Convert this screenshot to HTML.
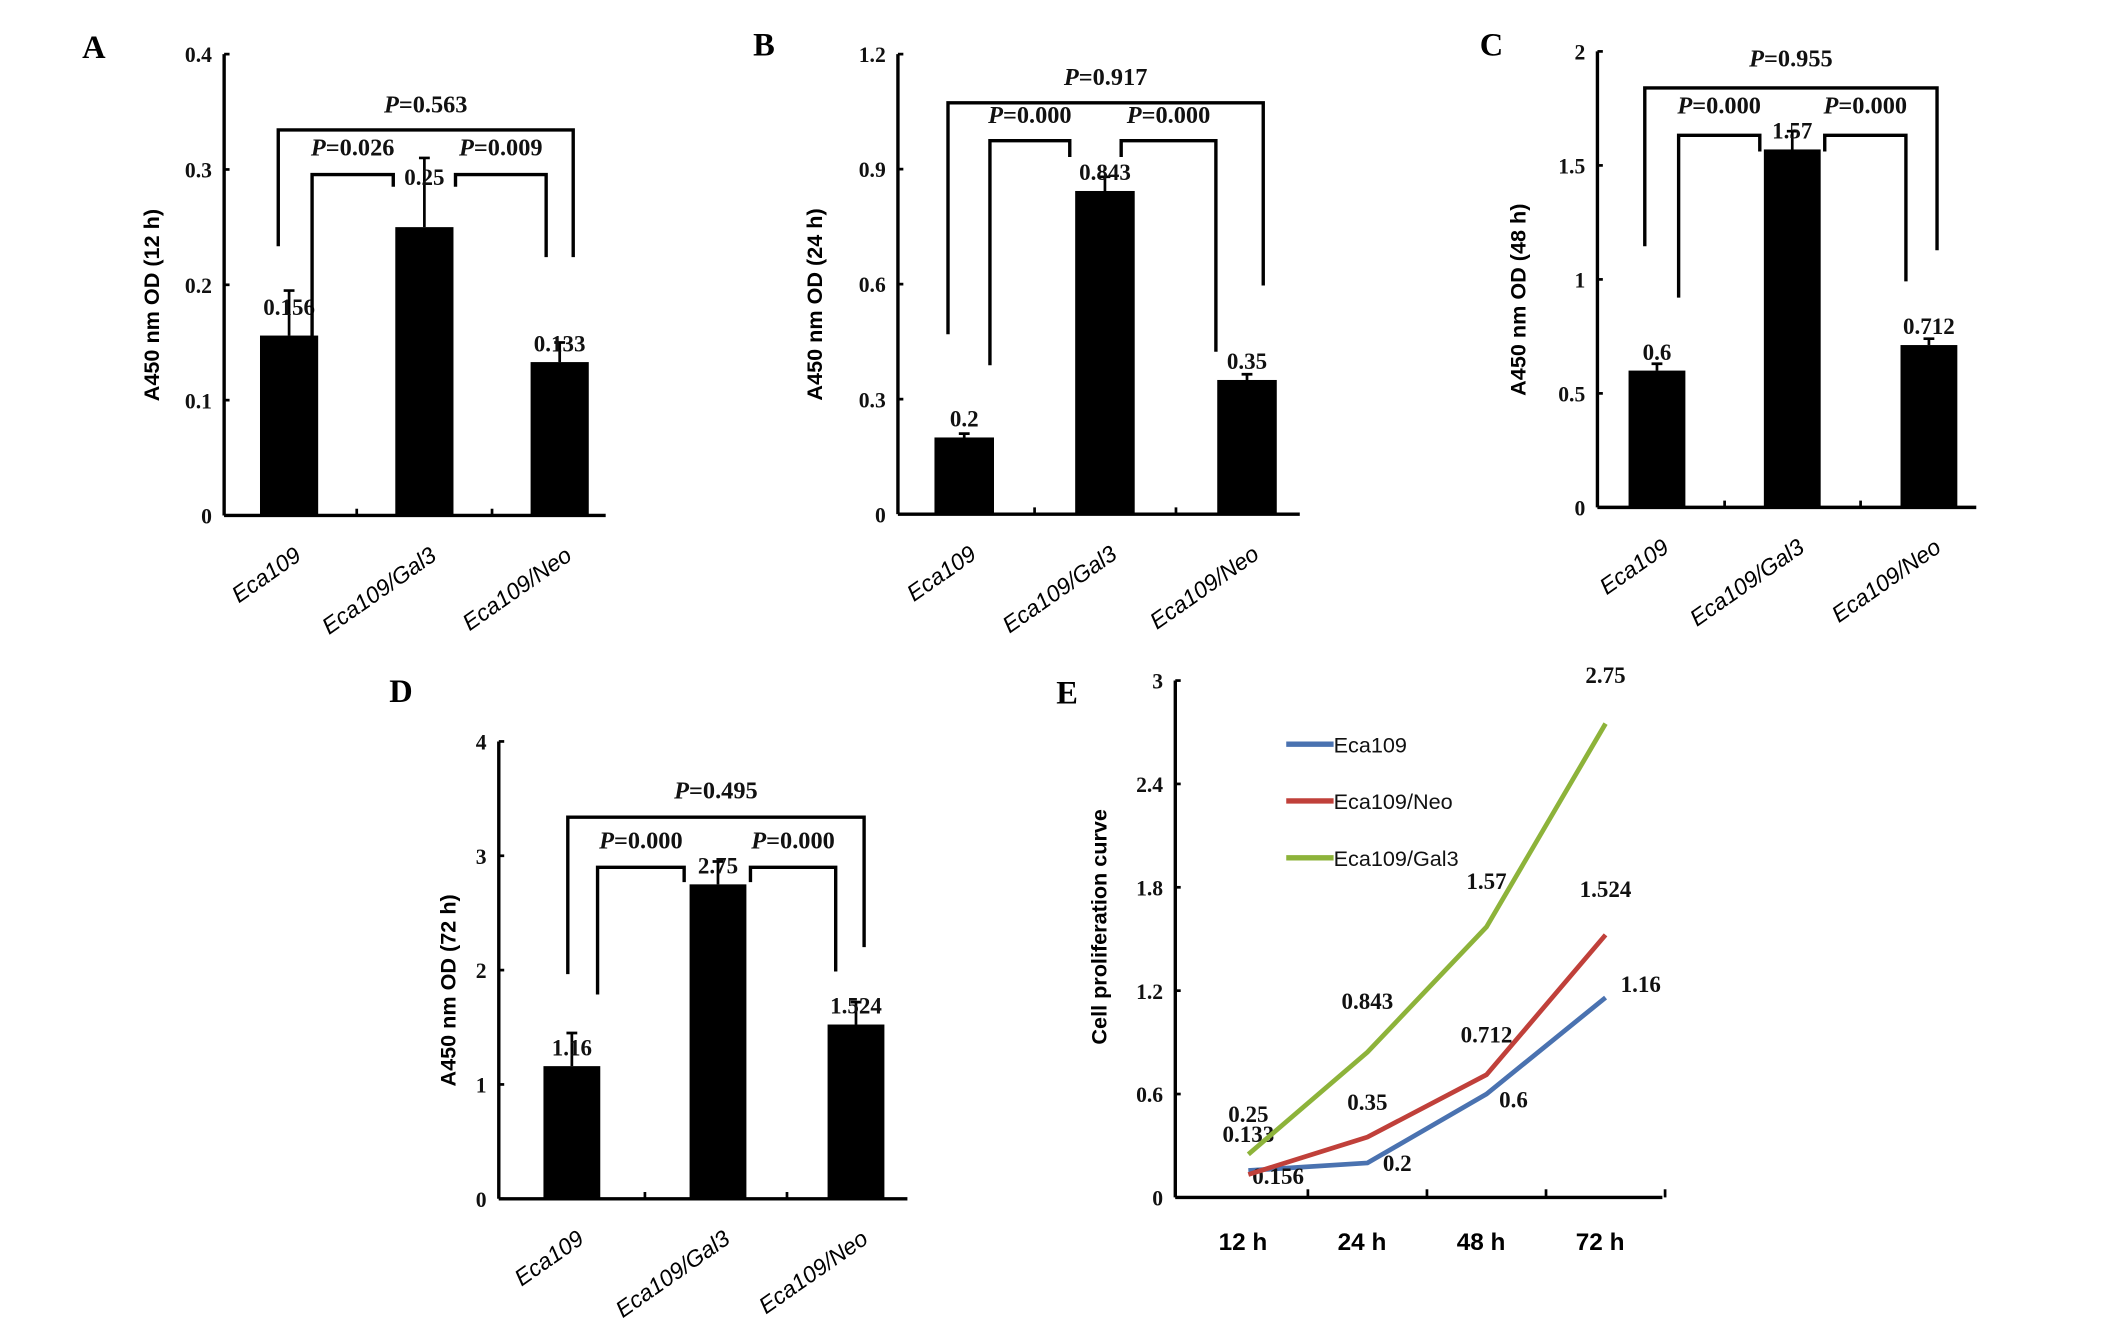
<!DOCTYPE html>
<html><head><meta charset="utf-8"><style>
html,body{margin:0;padding:0;background:#fff;}
svg{display:block;}
.tk{font-family:"Liberation Serif",serif;font-size:16px;font-weight:bold;fill:#111;}
.pv{font-family:"Liberation Serif",serif;font-size:18px;font-weight:bold;fill:#111;}
.vl{font-family:"Liberation Serif",serif;font-size:17px;font-weight:bold;fill:#111;}
.yl{font-family:"Liberation Sans",sans-serif;font-size:16px;font-weight:bold;fill:#000;}
.cat{font-family:"Liberation Sans",sans-serif;font-size:17px;font-style:italic;fill:#000;}
.pl{font-family:"Liberation Serif",serif;font-size:24px;font-weight:bold;fill:#000;}
.lg{font-family:"Liberation Sans",sans-serif;font-size:16px;fill:#111;}
.xl{font-family:"Liberation Sans",sans-serif;font-size:18px;font-weight:bold;fill:#000;}
</style></head><body>
<svg id="fig" width="2126" height="1330" viewBox="0 0 1570 983" xmlns="http://www.w3.org/2000/svg"></svg>
<script>
const categories = ["Eca109","Eca109/Gal3","Eca109/Neo"];
const valuesA = [0.156,0.25,0.133];  const errA = [0.195,0.31,0.15];  const ticksA = [0,0.1,0.2,0.3,0.4];
const valuesB = [0.2,0.843,0.35];    const errB = [0.21,0.88,0.365];  const ticksB = [0,0.3,0.6,0.9,1.2];
const valuesC = [0.6,1.57,0.712];    const errC = [0.63,1.65,0.74];   const ticksC = [0,0.5,1,1.5,2];
const valuesD = [1.16,2.75,1.524];   const errD = [1.45,2.95,1.72];   const ticksD = [0,1,2,3,4];
const pA = ["0.563","0.026","0.009"];
const pB = ["0.917","0.000","0.000"];
const pC = ["0.955","0.000","0.000"];
const pD = ["0.495","0.000","0.000"];
const timeLabels = ["12 h","24 h","48 h","72 h"];
const lineEca = [0.156,0.2,0.6,1.16];
const lineNeo = [0.133,0.35,0.712,1.524];
const lineGal = [0.25,0.843,1.57,2.75];
const ticksE = [0,0.6,1.2,1.8,2.4,3];

const NS="http://www.w3.org/2000/svg";
const svg=document.getElementById('fig');
function mk(tag,attrs,parent,text){const e=document.createElementNS(NS,tag);for(const k in attrs)e.setAttribute(k,attrs[k]);if(text!==undefined)e.textContent=text;(parent||svg).appendChild(e);return e;}

const layouts=[
 {vals:valuesA,err:errA,ticks:ticksA,p:pA,ax:165,top:40,y0:381,xe:447,cx:[213,313,413],bw:43,letter:"A",lx:60,ly:43,ylab:"A450 nm OD (12 h)",ylx:117,
  big:{y:96,l:205,lb:182,r:423,rb:190,ty:89},s1:{y:129,l:230,lb:270,r:290,rb:138},s2:{y:129,l:336,lb:138,r:403,rb:190},sty:121,catY:395},
 {vals:valuesB,err:errB,ticks:ticksB,p:pB,ax:663,top:40,y0:380,xe:960,cx:[712,816,921],bw:44,letter:"B",lx:556,ly:41,ylab:"A450 nm OD (24 h)",ylx:607,
  big:{y:76,l:700,lb:247,r:933,rb:211,ty:69},s1:{y:104,l:731,lb:270,r:790,rb:116},s2:{y:104,l:828,lb:116,r:898,rb:260},sty:97,catY:394},
 {vals:valuesC,err:errC,ticks:ticksC,p:pC,ax:1180,top:38,y0:375,xe:1460,cx:[1224,1324,1425],bw:42,letter:"C",lx:1093,ly:41,ylab:"A450 nm OD (48 h)",ylx:1127,
  big:{y:65,l:1215,lb:182,r:1431,rb:185,ty:55},s1:{y:100,l:1240,lb:220,r:1300,rb:112},s2:{y:100,l:1348,lb:112,r:1408,rb:208},sty:90,catY:389},
 {vals:valuesD,err:errD,ticks:ticksD,p:pD,ax:368,top:548,y0:886,xe:670,cx:[422,530,632],bw:42,letter:"D",lx:287,ly:519,ylab:"A450 nm OD (72 h)",ylx:336,
  big:{y:604,l:419,lb:720,r:638,rb:700,ty:596},s1:{y:641,l:441,lb:735,r:505,rb:652},s2:{y:641,l:554,lb:652,r:617,rb:718},sty:633,catY:900}
];

layouts.forEach((L,pi)=>{
 const g=mk('g',{});
 
 
 const tmax=L.ticks[L.ticks.length-1];
 const y=v=>L.y0-(v/tmax)*(L.y0-L.top);
 const lt=mk('text',{x:L.lx,y:L.ly,class:'pl'},g,L.letter);
  
 const ya=mk('line',{x1:L.ax,y1:L.top,x2:L.ax,y2:L.y0,stroke:'#000','stroke-width':2.5},g);
  
 const xa=mk('line',{x1:L.ax,y1:L.y0,x2:L.xe,y2:L.y0,stroke:'#000','stroke-width':2.5},g);
  
 L.ticks.forEach(t=>{
  mk('line',{x1:L.ax,y1:y(t),x2:L.ax+4,y2:y(t),stroke:'#000','stroke-width':2},g);
  const tl=mk('text',{x:L.ax-9,y:y(t)+6,class:'tk','text-anchor':'end'},g,String(t));
   
 });
 for(let i=1;i<categories.length;i++){const tx=(L.cx[i-1]+L.cx[i])/2;mk('line',{x1:tx,y1:L.y0,x2:tx,y2:L.y0-5,stroke:'#000','stroke-width':2},g);}
 const yl=mk('text',{x:0,y:0,class:'yl','text-anchor':'middle',transform:`translate(${L.ylx},${(L.top+L.y0)/2+15}) rotate(-90)`},g,L.ylab);
  
 L.vals.forEach((v,i)=>{
  const b=mk('rect',{x:L.cx[i]-L.bw/2,y:y(v),width:L.bw,height:L.y0-y(v),fill:'#000'},g);
   
  const e=mk('path',{d:`M${L.cx[i]},${y(v)}V${y(L.err[i])}M${L.cx[i]-4},${y(L.err[i])}H${L.cx[i]+4}`,stroke:'#000','stroke-width':2,fill:'none'},g);
   
  const vl=mk('text',{x:L.cx[i],y:Math.min(y(v)-8,y(L.err[i])+ (i==1?20:18)),class:'vl','text-anchor':'middle'},g,String(v));
   
  const c=mk('text',{x:0,y:0,class:'cat','text-anchor':'end',transform:`translate(${L.cx[i]+10},${L.catY+18}) rotate(-35)`},g,categories[i]);
   
 });
 [[L.big,L.p[0],(L.big.l+L.big.r)/2,L.big.ty-6],[L.s1,L.p[1],(L.s1.l+L.s1.r)/2,L.sty-6],[L.s2,L.p[2],(L.s2.l+L.s2.r)/2,L.sty-6]].forEach(([B,pv,tx,ty])=>{
  const br=mk('path',{d:`M${B.l},${B.lb}V${B.y}H${B.r}V${B.rb}`,stroke:'#000','stroke-width':2.5,fill:'none'},g);
   
  const t=mk('text',{x:tx,y:ty,class:'pv','text-anchor':'middle'},g);
   
  mk('tspan',{'font-style':'italic'},t,'P');
  mk('tspan',{},t,'='+pv);
 });
});

const gE=mk('g',{});


const E={ax:868,top:503,y0:885,xe:1228,x0:922,dx:88};
const ex=i=>E.x0+i*E.dx;
const ey=v=>E.y0-(v/3)*(E.y0-E.top);
const le=mk('text',{x:780,y:520,class:'pl'},gE,'E');
 
const eya=mk('line',{x1:E.ax,y1:E.top,x2:E.ax,y2:E.y0,stroke:'#000','stroke-width':2.5},gE);
 
const exa=mk('line',{x1:E.ax,y1:E.y0,x2:E.xe,y2:E.y0,stroke:'#000','stroke-width':2.5},gE);
 
ticksE.forEach(t=>{
 mk('line',{x1:E.ax,y1:ey(t),x2:E.ax+4,y2:ey(t),stroke:'#000','stroke-width':2},gE);
 const tl=mk('text',{x:E.ax-9,y:ey(t)+6,class:'tk','text-anchor':'end'},gE,String(t));
  
});
timeLabels.forEach((lab,i)=>{
 const tx=ex(i)+E.dx/2; mk('line',{x1:tx,y1:E.y0,x2:tx,y2:E.y0-6,stroke:'#000','stroke-width':2},gE);
 const t=mk('text',{x:ex(i)-4,y:924,class:'xl','text-anchor':'middle'},gE,lab);
  
});
const eyl=mk('text',{x:0,y:0,class:'yl','text-anchor':'middle',transform:'translate(817,685) rotate(-90)'},gE,'Cell proliferation curve');
 
const series=[["Eca109",lineEca,"#4a72b0"],["Eca109/Neo",lineNeo,"#c0403a"],["Eca109/Gal3",lineGal,"#8db33a"]];
const lblOff=[[[22,10],[22,6],[20,10],[26,-4]],[[0,-24],[0,-20],[0,-24],[0,-28]],[[0,-24],[0,-32],[0,-28],[0,-30]]];
series.forEach(([name,vals,col],si)=>{
 const pl=mk('polyline',{points:vals.map((v,i)=>ex(i)+','+ey(v)).join(' '),fill:'none',stroke:col,'stroke-width':3.5},gE);
  
 vals.forEach((v,i)=>{
  const o=lblOff[si][i];
  const t=mk('text',{x:ex(i)+o[0],y:ey(v)+o[1],class:'vl','text-anchor':'middle','font-size':'16'},gE,String(v));
   
 });
 const ly=550+si*42;
 const ll=mk('line',{x1:950,y1:ly,x2:985,y2:ly,stroke:col,'stroke-width':4},gE);
  
 const lt=mk('text',{x:985,y:ly+6,class:'lg'},gE,name);
  
});
</script>
</body></html>
